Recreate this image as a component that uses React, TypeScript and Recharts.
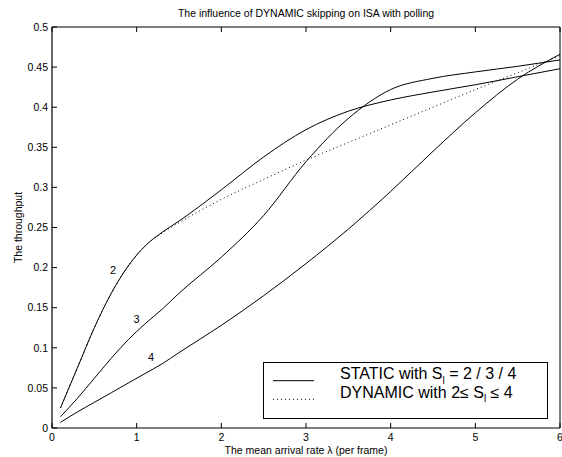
import React from 'react';
import { LineChart, Line, XAxis, YAxis, Legend, ReferenceDot, Label } from 'recharts';

// Arrival rate samples (per frame)
const lambda = [0.1, 0.3, 0.5, 0.7, 0.9, 1.1, 1.3, 1.5, 2, 2.5, 3, 3.5, 4, 4.5, 5, 5.5, 6];

// Throughput with STATIC skipping, S_l = 2, 3, 4
const staticS2 = [0.025, 0.075, 0.125, 0.168, 0.202, 0.227, 0.244, 0.258, 0.297, 0.338, 0.372, 0.395, 0.409, 0.419, 0.428, 0.438, 0.448];
const staticS3 = [0.014, 0.037, 0.062, 0.087, 0.11, 0.13, 0.148, 0.168, 0.213, 0.265, 0.332, 0.386, 0.422, 0.436, 0.444, 0.451, 0.459];
const staticS4 = [0.007, 0.02, 0.032, 0.044, 0.056, 0.068, 0.08, 0.094, 0.128, 0.165, 0.205, 0.248, 0.295, 0.345, 0.393, 0.435, 0.466];

// Throughput with DYNAMIC skipping, 2 <= S_l <= 4
const dynamicS = [0.025, 0.075, 0.125, 0.168, 0.202, 0.227, 0.243, 0.256, 0.285, 0.31, 0.334, 0.356, 0.378, 0.4, 0.422, 0.443, 0.464];

const xTicks = [0, 1, 2, 3, 4, 5, 6];
const yTicks = [0, 0.05, 0.1, 0.15, 0.2, 0.25, 0.3, 0.35, 0.4, 0.45, 0.5];
const yTickLabels = ['0', '0.05', '0.1', '0.15', '0.2', '0.25', '0.3', '0.35', '0.4', '0.45', '0.5'];

// Curve tags naming S_l for each static curve
const curveTags = [
  { label: '2', x: 0.72, y: 0.197 },
  { label: '3', x: 1.0, y: 0.1355 },
  { label: '4', x: 1.17, y: 0.089 },
];

const legendItems = [
  { name: 'STATIC', dashed: false },
  { name: 'DYNAMIC', dashed: true },
];

const rows = lambda.map((x, i) => ({
  x,
  s2: staticS2[i],
  s3: staticS3[i],
  s4: staticS4[i],
  dyn: dynamicS[i],
}));

const FONT = '"Liberation Sans", Arial, Helvetica, sans-serif';
const TICK_LEN = 5;

const BottomTick = (props: any) => {
  const { x, y, payload } = props;
  return (
    <g>
      <line x1={x} x2={x} y1={y} y2={y - TICK_LEN} stroke="#000" strokeWidth={1} />
      <text x={x} y={y + 13} textAnchor="middle" fontSize={10.5} fontFamily={FONT} fill="#000">
        {payload.value}
      </text>
    </g>
  );
};

const TopTick = (props: any) => {
  const { x, y } = props;
  return <line x1={x} x2={x} y1={y} y2={y + TICK_LEN} stroke="#000" strokeWidth={1} />;
};

const LeftTick = (props: any) => {
  const { x, y, payload, index } = props;
  return (
    <g>
      <line x1={x} x2={x + TICK_LEN} y1={y} y2={y} stroke="#000" strokeWidth={1} />
      <text x={x - 4} y={y + 3.7} textAnchor="end" fontSize={10.5} fontFamily={FONT} fill="#000">
        {yTickLabels[index] ?? String(payload.value)}
      </text>
    </g>
  );
};

const RightTick = (props: any) => {
  const { x, y } = props;
  return <line x1={x} x2={x - TICK_LEN} y1={y} y2={y} stroke="#000" strokeWidth={1} />;
};

const LegendBox = () => (
  <svg width={285} height={57} style={{ display: 'block', fontFamily: FONT }}>
    <rect x={0.5} y={0.5} width={284} height={56} fill="#fff" stroke="#000" strokeWidth={1} />
    <line x1={10} x2={51} y1={18.7} y2={18.7} stroke="#000" strokeWidth={1} />
    <line x1={10} x2={51} y1={37.3} y2={37.3} stroke="#000" strokeWidth={1} strokeDasharray="1 3" />
    <text x={77} y={17} fontSize={16} fill="#000">
      {legendItems[0].name} with S
      <tspan fontSize={10} dy={4.5}>l</tspan>
      <tspan fontSize={16} dy={-4.5}> = 2 / 3 / 4</tspan>
    </text>
    <text x={77} y={35.5} fontSize={16} fill="#000">
      {legendItems[1].name} with 2≤ S
      <tspan fontSize={10} dy={4.5}>l</tspan>
      <tspan fontSize={16} dy={-4.5}> ≤ 4</tspan>
    </text>
  </svg>
);

export default function App() {
  return (
    <div style={{ position: 'absolute', left: 0, top: 0, width: 562, height: 457, background: '#fff' }}>
      <LineChart width={562} height={457} data={rows} margin={{ top: 26, right: 1, bottom: 0, left: 0 }}>
        <XAxis
          xAxisId="bottom"
          dataKey="x"
          type="number"
          domain={[0, 6]}
          ticks={xTicks}
          height={29}
          tickSize={0}
          tickMargin={0}
          tick={<BottomTick />}
          tickLine={false}
          axisLine={{ stroke: '#000', strokeWidth: 1.2 }}
          interval={0}
        >
          <Label
            value="The mean arrival rate λ (per frame)"
            position="insideBottom"
            offset={3}
            style={{ fontSize: 10.5, fontFamily: FONT, fill: '#000' }}
          />
        </XAxis>
        <XAxis
          xAxisId="top"
          orientation="top"
          dataKey="x"
          type="number"
          domain={[0, 6]}
          ticks={xTicks}
          height={1}
          tickSize={0}
          tickMargin={0}
          tick={<TopTick />}
          tickLine={false}
          axisLine={{ stroke: '#000', strokeWidth: 1 }}
          interval={0}
        >
          <Label
            value="The influence of DYNAMIC skipping on ISA with polling"
            position="top"
            offset={9}
            style={{ fontSize: 10.5, fontFamily: FONT, fill: '#000' }}
          />
        </XAxis>
        <YAxis
          yAxisId="left"
          type="number"
          domain={[0, 0.5]}
          ticks={yTicks}
          width={52}
          tickSize={0}
          tickMargin={0}
          tick={<LeftTick />}
          tickLine={false}
          axisLine={{ stroke: '#000', strokeWidth: 1.2 }}
          interval={0}
        >
          <Label
            value="The throughput"
            angle={-90}
            position="insideLeft"
            offset={18}
            style={{ fontSize: 10.5, fontFamily: FONT, fill: '#000', textAnchor: 'middle' }}
          />
        </YAxis>
        <YAxis
          yAxisId="right"
          orientation="right"
          type="number"
          domain={[0, 0.5]}
          ticks={yTicks}
          width={1}
          tickSize={0}
          tickMargin={0}
          tick={<RightTick />}
          tickLine={false}
          axisLine={{ stroke: '#000', strokeWidth: 1 }}
          interval={0}
        />
        <Line xAxisId="bottom" yAxisId="left" dataKey="s2" type="monotone" stroke="#000" strokeWidth={1} dot={false} isAnimationActive={false} />
        <Line xAxisId="bottom" yAxisId="left" dataKey="s3" type="monotone" stroke="#000" strokeWidth={1} dot={false} isAnimationActive={false} />
        <Line xAxisId="bottom" yAxisId="left" dataKey="s4" type="monotone" stroke="#000" strokeWidth={1} dot={false} isAnimationActive={false} />
        <Line xAxisId="bottom" yAxisId="left" dataKey="dyn" type="monotone" stroke="#000" strokeWidth={1} strokeDasharray="1 3" dot={false} isAnimationActive={false} />
        {curveTags.map((t) => (
          <ReferenceDot
            key={t.label}
            xAxisId="bottom"
            yAxisId="left"
            x={t.x}
            y={t.y}
            r={0}
            fill="none"
            stroke="none"
            label={{ value: t.label, position: 'center', fontSize: 11, fontFamily: FONT, fill: '#000' }}
          />
        ))}
        <Legend
          verticalAlign="middle"
          align="center"
          content={() => <LegendBox />}
          wrapperStyle={{ position: 'absolute', left: 263, top: 362, width: 285, height: 57 }}
        />
      </LineChart>
    </div>
  );
}
